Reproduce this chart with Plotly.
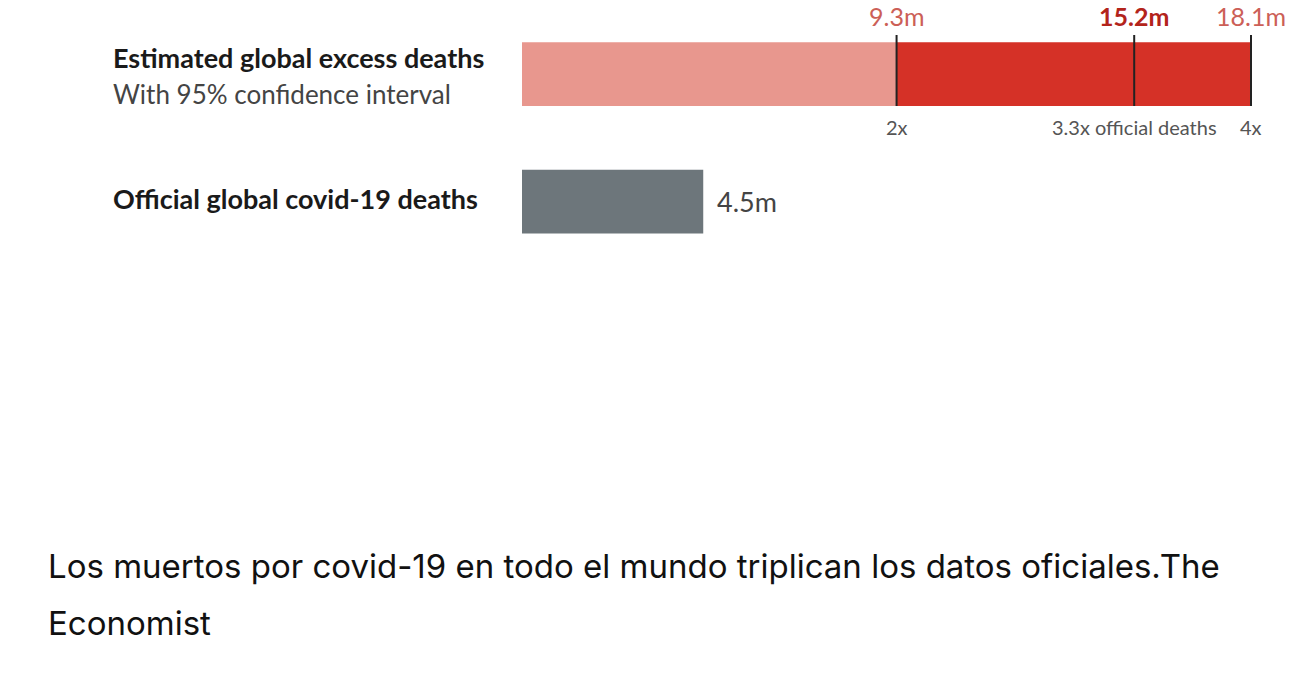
import plotly.graph_objects as go

W, H = 1302, 678

# Data (millions of deaths)
rows = ["Estimated global excess deaths", "Official global covid-19 deaths"]
subtitle = "With 95% confidence interval"
excess_low = 9.3
excess_central = 15.2
excess_high = 18.1
official = 4.5
top_labels = ["9.3m", "15.2m", "18.1m"]
multiple_labels = ["2x", "3.3x official deaths", "4x"]
caption_lines = ["Los muertos por covid-19 en todo el mundo triplican los datos oficiales.The", "Economist"]

px_per_unit = (1251 - 522) / 18.1
x0_px, x1_px = 522, 1272
xmax = (x1_px - x0_px) / px_per_unit

# y mapping: category centres at 74 and 201.5 px
step = 127.5
ymin = -74 / step
ymax = ymin + H / step

def py(p):
    return 1 - p / H

fig = go.Figure()
fig.add_trace(go.Bar(y=[0], x=[excess_low], base=[0], orientation="h",
                     marker=dict(color="#e8978e", line_width=0), width=0.5, hoverinfo="skip"))
fig.add_trace(go.Bar(y=[0], x=[excess_high - excess_low], base=[excess_low], orientation="h",
                     marker=dict(color="#d53127", line_width=0), width=0.5, hoverinfo="skip"))
fig.add_trace(go.Bar(y=[1], x=[official], base=[0], orientation="h",
                     marker=dict(color="#6d767b", line_width=0), width=0.5, hoverinfo="skip"))

shapes = []
for v in [excess_low, excess_central, excess_high]:
    shapes.append(dict(type="line", xref="x", yref="paper", x0=v, x1=v,
                       y0=py(35), y1=py(106), line=dict(color="#222222", width=2)))

ann = []
top_colors = ["#cc5f57", "#b3241b", "#cc5f57"]
top_bold = [False, True, False]
for v, t, c, b in zip([excess_low, excess_central, excess_high], top_labels, top_colors, top_bold):
    ann.append(dict(x=v, y=py(16), xref="x", yref="paper", text=f"<b>{t}</b>" if b else t,
                    showarrow=False, xanchor="center", yanchor="middle",
                    font=dict(family="Lato", size=25, color=c)))
for v, t in zip([excess_low, excess_central, excess_high], multiple_labels):
    ann.append(dict(x=v, y=py(127), xref="x", yref="paper", text=t,
                    showarrow=False, xanchor="center", yanchor="middle",
                    font=dict(family="Lato", size=20, color="#555555")))
ann.append(dict(x=official, y=1, xref="x", yref="y", text="4.5m", xshift=12,
                showarrow=False, xanchor="left", yanchor="middle",
                font=dict(family="Lato", size=27, color="#444444")))

ann.append(dict(x=111 / W, y=py(58), xref="paper", yref="paper", text=f"<b>{rows[0]}</b>",
                showarrow=False, xanchor="left", yanchor="middle",
                font=dict(family="Lato", size=27, color="#1a1a1a")))
ann.append(dict(x=111 / W, y=py(94), xref="paper", yref="paper", text=subtitle,
                showarrow=False, xanchor="left", yanchor="middle",
                font=dict(family="Lato", size=26, color="#444444")))
ann.append(dict(x=111 / W, y=py(199), xref="paper", yref="paper", text=f"<b>{rows[1]}</b>",
                showarrow=False, xanchor="left", yanchor="middle",
                font=dict(family="Lato", size=27, color="#1a1a1a")))

for i, line in enumerate(caption_lines):
    ann.append(dict(x=46 / W, y=py(566 + 57 * i), xref="paper", yref="paper", text=line,
                    showarrow=False, xanchor="left", yanchor="middle", align="left",
                    font=dict(family="Inter", size=33, color="#111111")))

fig.update_layout(
    width=W, height=H, margin=dict(l=0, r=0, t=0, b=0),
    paper_bgcolor="white", plot_bgcolor="white",
    barmode="overlay", showlegend=False,
    xaxis=dict(domain=[x0_px / W, x1_px / W], range=[0, xmax], visible=False, fixedrange=True),
    yaxis=dict(range=[ymax, ymin], visible=False, fixedrange=True),
    shapes=shapes, annotations=ann,
)
fig.write_html("out.html", config={"displayModeBar": False})
